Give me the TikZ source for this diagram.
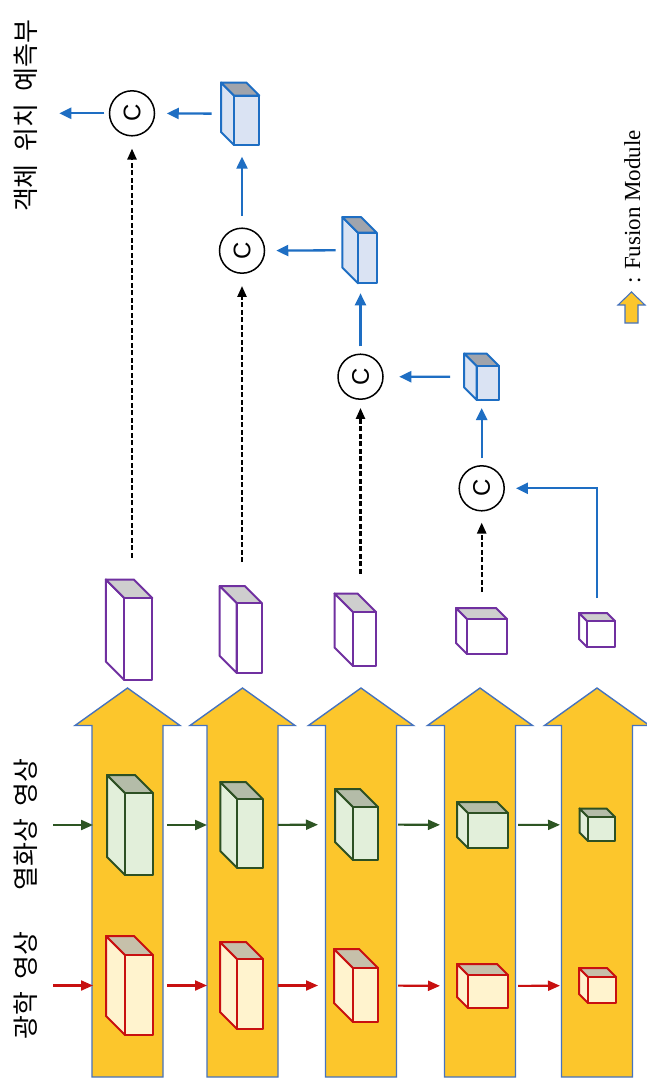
\documentclass[tikz,border=0pt]{standalone}
\usepackage{fontspec}
\setmainfont{Liberation Serif}
\newfontfamily\kofont[WordSpace=2.1]{Noto Sans CJK KR}
\newfontfamily\csans{Liberation Sans}
\usetikzlibrary{arrows.meta}
\definecolor{yel}{RGB}{252,198,44}
\definecolor{yelb}{RGB}{70,115,190}
\definecolor{purp}{RGB}{112,48,160}
\definecolor{ptop}{RGB}{206,206,206}
\definecolor{gstroke}{RGB}{45,80,35}
\definecolor{gfill}{RGB}{226,239,218}
\definecolor{gtop}{RGB}{180,188,168}
\definecolor{rstroke}{RGB}{200,16,16}
\definecolor{rfill}{RGB}{255,243,206}
\definecolor{rtop}{RGB}{198,192,170}
\definecolor{bstroke}{RGB}{30,110,195}
\definecolor{bfill}{RGB}{218,227,243}
\definecolor{btop}{RGB}{160,164,172}
\definecolor{garr}{RGB}{45,85,35}
\definecolor{rarr}{RGB}{200,16,16}
\definecolor{barr}{RGB}{30,110,195}
\newcommand{\mkcube}[9]{%
  \pgfmathsetmacro{\qbx}{#2-#6}%
  \pgfmathsetmacro{\qby}{#3-#6}%
  \pgfmathsetmacro{\qbxx}{#4-#6}%
  \pgfmathsetmacro{\qbyy}{#5-#6}%
  \pgfmathsetmacro{\qw}{#4-\qbx}%
  \pgfmathsetmacro{\qh}{#5-\qby}%
  \pgfmathsetmacro{\qcx}{(#4+\qbx)/2}%
  \pgfmathsetmacro{\qcy}{(#5+\qby)/2}%
  \filldraw[cubeline, draw=#7, fill=#8] (#2,#3) -- (\qbx,\qby) -- (\qbx,\qbyy) -- (#2,#5) -- cycle;
  \filldraw[cubeline, draw=#7, fill=#9] (#2,#3) -- (\qbx,\qby) -- (\qbxx,\qby) -- (#4,#3) -- cycle;
  \filldraw[cubeline, draw=#7, fill=#8] (#2,#3) rectangle (#4,#5);
  \node[inner sep=0pt, outer sep=0pt, minimum width=\qw pt, minimum height=\qh pt] (#1) at (\qcx,\qcy) {};
}
\begin{document}
\begin{tikzpicture}[x=1pt,y=-1pt,
  cubeline/.style={line width=2pt, line join=round},
  yarrow/.style={fill=yel, draw=yelb, line width=1.4pt, line join=miter},
  cnode/.style={circle, draw=black, line width=1.5pt, minimum size=45pt, inner sep=0pt, rotate=90, font=\csans\fontsize{24}{28}\selectfont},
  barrow/.style={draw=barr, line width=2.3pt, -{Triangle[length=12pt,width=11pt]}},
  garrow/.style={draw=garr, line width=2.1pt, -{Triangle[length=12pt,width=10pt]}},
  rarrow/.style={draw=rarr, line width=2.1pt, -{Triangle[length=12pt,width=10pt]}},
  darrow/.style={draw=black, line width=2.4pt, dash pattern=on 5pt off 2.5pt, -{Triangle[length=11pt,width=9pt]}},
  kotext/.style={rotate=90, font=\kofont\fontsize{26}{31}\selectfont}
]
\useasboundingbox (0,0) rectangle (647,1079);
\fill[white] (0,0) rectangle (647,1079);
% yellow fusion arrows
\foreach \cx in {127.5,242.5,361,480,597}{
  \filldraw[yarrow] (\cx,688) -- (\cx+52.5,725.5) -- (\cx+35.5,725.5) -- (\cx+35.5,1077)
     -- (\cx-35.5,1077) -- (\cx-35.5,725.5) -- (\cx-52.5,725.5) -- cycle;
}
% purple cubes
\mkcube{P1}{124.3}{598}{152.3}{680}{18.5}{purp}{white}{ptop}
\mkcube{P2}{236.7}{603}{261.7}{673}{17}{purp}{white}{ptop}
\mkcube{P3}{353}{612}{376}{666}{18.5}{purp}{white}{ptop}
\mkcube{P4}{467}{619}{507}{654}{11}{purp}{white}{ptop}
\mkcube{P5}{587}{621}{615}{647}{8}{purp}{white}{ptop}
% green cubes
\mkcube{G1}{125}{793}{153}{875}{18}{gstroke}{gfill}{gtop}
\mkcube{G2}{237.3}{799}{262.7}{868}{17}{gstroke}{gfill}{gtop}
\mkcube{G3}{353}{807}{378}{860}{18}{gstroke}{gfill}{gtop}
\mkcube{G4}{468}{813}{508}{848}{11}{gstroke}{gfill}{gtop}
\mkcube{G5}{588}{817}{615}{841}{8.5}{gstroke}{gfill}{gtop}
% red cubes
\mkcube{R1}{125}{955}{153}{1035}{19}{rstroke}{rfill}{rtop}
\mkcube{R2}{237}{959}{263}{1029}{17}{rstroke}{rfill}{rtop}
\mkcube{R3}{353}{968}{378}{1022}{19}{rstroke}{rfill}{rtop}
\mkcube{R4}{468}{975}{508}{1008}{11}{rstroke}{rfill}{rtop}
\mkcube{R5}{588}{977}{616}{1003}{9}{rstroke}{rfill}{rtop}
% blue cubes
\mkcube{B1}{476.7}{366}{499}{400}{12.5}{bstroke}{bfill}{btop}
\mkcube{B2}{358}{232.7}{376.7}{283.3}{15.6}{bstroke}{bfill}{btop}
\mkcube{B3}{234}{95.5}{259.3}{145}{13}{bstroke}{bfill}{btop}
% concat circles
\node[cnode] (c1) at (132,113.3) {C};
\node[cnode] (c2) at (242,250.7) {C};
\node[cnode] (c3) at (360.5,376.7) {C};
\node[cnode] (c4) at (481.7,488.3) {C};
% blue connectors
\coordinate (out) at (59.3,113.3);
\draw[barrow, shorten <=7pt, shorten >=8pt] (c4) -- (c4 |- B1.south);
\draw[barrow, shorten <=14pt, shorten >=15.5pt] (B1) -- (c3);
\draw[barrow, shorten <=7pt, shorten >=10pt] (c3) -- (c3 |- B2.south);
\draw[barrow, shorten <=6.7pt, shorten >=11pt] (B2) -- (c2);
\draw[barrow, shorten <=11.5pt, shorten >=11.7pt] (c2) -- (c2 |- B3.south);
\draw[barrow, shorten <=9.3pt, shorten >=11.5pt] (B3) -- (c1);
\draw[barrow, shorten <=4.5pt] (c1) -- (out);
\draw[barrow, shorten <=15pt, shorten >=11pt] (P5.north) |- (c4);
% dashed connectors
\draw[darrow, shorten <=22pt, shorten >=12pt] (c1 |- P1.north) -- (c1);
\draw[darrow, shorten <=24pt, shorten >=12pt] (c2 |- P2.north) -- (c2);
\draw[darrow, shorten <=20pt, shorten >=8pt] (c3 |- P3.north) -- (c3);
\draw[darrow, shorten <=16pt, shorten >=11pt] (c4 |- P4.north) -- (c4);
% green (thermal) connectors
\coordinate (gin) at (53.3,825);
\draw[garrow, shorten >=14pt] (gin) -- (G1);
\draw[garrow, shorten <=14pt, shorten >=13.3pt] (G1) -- (G2);
\draw[garrow, shorten <=15.3pt, shorten >=17pt] (G2) -- (G3);
\draw[garrow, shorten <=20pt, shorten >=17pt] (G3) -- (G4);
\draw[garrow, shorten <=10pt, shorten >=19.5pt] (G4) -- (G5);
% red (optical) connectors
\coordinate (rin) at (53.3,985.5);
\draw[rarrow, shorten >=13pt] (rin) -- (R1);
\draw[rarrow, shorten <=14pt, shorten >=13pt] (R1) -- (R2);
\draw[rarrow, shorten <=15pt, shorten >=16pt] (R2) -- (R3);
\draw[rarrow, shorten <=20pt, shorten >=17pt] (R3) -- (R4);
\draw[rarrow, shorten <=10pt, shorten >=19pt] (R4) -- (R5);
% labels
\node[kotext] (t1) at (26,116) {객체 위치 예측부};
\node[kotext] (t2) at (26,985.5) {광학 영상};
\node[kotext] (t3) at (26,824.5) {열화상 영상};
% legend
\filldraw[yarrow, line width=1.1pt] (631.5,292) -- (645,305) -- (638,305) -- (638,323)
   -- (625,323) -- (625,305) -- (618,305) -- cycle;
\node[rotate=90, anchor=base, font=\fontsize{23}{27}\selectfont] (t4) at (640,207) {: Fusion Module};
\end{tikzpicture}
\end{document}
